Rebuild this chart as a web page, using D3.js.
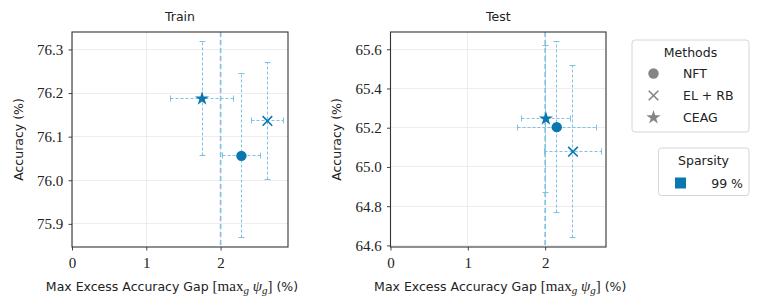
<!DOCTYPE html>
<html>
<head>
<meta charset="utf-8">
<script src="https://cdn.jsdelivr.net/npm/d3@7"></script>
<style>
  body { margin: 0; background: #fff; }
  svg text { fill: #222; }
  .serif { font-family: "Liberation Serif", serif; }
  .sans { font-family: "DejaVu Sans", sans-serif; font-size: 12.5px; }
</style>
</head>
<body>
<svg id="chart" width="761" height="307"></svg>
<script>
// methods and their values (x = max excess accuracy gap, y = accuracy)
const methods = ["NFT", "EL + RB", "CEAG"]
const symbols = ["circle", "cross", "star"]

const trainX    = [2.28, 2.63, 1.75]
const trainXerr = [0.26, 0.21, 0.42]
const trainY    = [76.056, 76.136, 76.187]
const trainYerr = [0.188, 0.134, 0.131]

const testX    = [2.15, 2.36, 2.01]
const testXerr = [0.51, 0.37, 0.32]
const testY    = [65.203, 65.078, 65.246]
const testYerr = [0.437, 0.437, 0.375]

const refLine = 2
const xTicks = [0, 1, 2]
const trainYTicks = [75.9, 76.0, 76.1, 76.2, 76.3]
const testYTicks = [64.6, 64.8, 65.0, 65.2, 65.4, 65.6]
const sparsity = ["99 %"]

const markColor = "#0a77ae"
const errColor = "#7ec2e3"

var svg = d3.select("#chart")

// snap to pixel centre so thin lines stay crisp
function px(v) { return Math.round(v - 0.5) + 0.5 }

function drawPanel(opt) {
    var x = d3.scaleLinear().domain(opt.xDomain).range([opt.left, opt.right])
    var y = d3.scaleLinear().domain(opt.yDomain).range([opt.bottom, opt.top])
    var g = svg.append("g")

    // grid
    g.append("g").selectAll("line").data(opt.yTicks).enter().append("line")
        .attr("x1", opt.left).attr("x2", opt.right)
        .attr("y1", d => px(y(d))).attr("y2", d => px(y(d)))
        .attr("stroke", "#ebebeb").attr("stroke-width", 0.9)
    g.append("g").selectAll("line").data(xTicks).enter().append("line")
        .attr("y1", opt.top).attr("y2", opt.bottom)
        .attr("x1", d => px(x(d))).attr("x2", d => px(x(d)))
        .attr("stroke", "#ebebeb").attr("stroke-width", 0.9)

    // axes
    var xAxis = d3.axisBottom(x).tickValues(xTicks).tickFormat(d3.format("d")).tickSize(3.5).tickSizeOuter(0)
    var yAxis = d3.axisLeft(y).tickValues(opt.yTicks).tickFormat(d3.format(".1f")).tickSize(3.5).tickSizeOuter(0)
    var gx = g.append("g").attr("transform", "translate(0," + opt.bottom + ")").call(xAxis)
    var gy = g.append("g").attr("transform", "translate(" + opt.left + ",0)").call(yAxis)
    gx.attr("font-family", null).attr("font-size", null).attr("class", "serif").style("font-size", "15px")
    gy.attr("font-family", null).attr("font-size", null).attr("class", "serif").style("font-size", "15px")
    gx.select(".domain").remove()
    gy.select(".domain").remove()
    gx.selectAll("line").attr("stroke", "#333").attr("stroke-width", 0.9)
    gy.selectAll("line").attr("stroke", "#333").attr("stroke-width", 0.9)
    gx.selectAll("text").attr("fill", "#222").attr("dy", "0.95em")
    gy.selectAll("text").attr("fill", "#222").attr("dx", "-0.15em")

    // reference line
    g.append("line")
        .attr("x1", x(refLine)).attr("x2", x(refLine))
        .attr("y1", opt.top).attr("y2", opt.bottom)
        .attr("stroke", errColor).attr("stroke-width", 1.6)
        .attr("stroke-dasharray", "5,3")

    // error bars
    var cap = 3
    var eb = g.append("g").attr("stroke", errColor).attr("stroke-width", 1).attr("fill", "none")
    opt.xs.forEach(function(xv, i) {
        var cx = px(x(xv)), cy = px(y(opt.ys[i]))
        var x0 = px(x(xv - opt.xerr[i])), x1 = px(x(xv + opt.xerr[i]))
        var y0 = px(y(opt.ys[i] - opt.yerr[i])), y1 = px(y(opt.ys[i] + opt.yerr[i]))
        eb.append("line").attr("x1", x0).attr("x2", x1).attr("y1", cy).attr("y2", cy).attr("stroke-dasharray", "3,2")
        eb.append("line").attr("x1", cx).attr("x2", cx).attr("y1", y0).attr("y2", y1).attr("stroke-dasharray", "3,2")
        eb.append("line").attr("x1", x0).attr("x2", x0).attr("y1", cy - cap).attr("y2", cy + cap)
        eb.append("line").attr("x1", x1).attr("x2", x1).attr("y1", cy - cap).attr("y2", cy + cap)
        eb.append("line").attr("x1", cx - cap).attr("x2", cx + cap).attr("y1", y0).attr("y2", y0)
        eb.append("line").attr("x1", cx - cap).attr("x2", cx + cap).attr("y1", y1).attr("y2", y1)
    })

    // markers
    opt.xs.forEach(function(xv, i) {
        drawMarker(g, symbols[i], x(xv), y(opt.ys[i]), markColor)
    })

    // frame
    g.append("rect")
        .attr("x", opt.left).attr("y", opt.top)
        .attr("width", opt.right - opt.left).attr("height", opt.bottom - opt.top)
        .attr("fill", "none").attr("stroke", "#333").attr("stroke-width", 1.1)

    // title
    g.append("text").attr("class", "sans").attr("x", (opt.left + opt.right) / 2).attr("y", 21)
        .attr("text-anchor", "middle").text(opt.title)

    // y label
    g.append("text").attr("class", "sans")
        .attr("transform", "translate(" + opt.ylabelX + "," + ((opt.top + opt.bottom) / 2) + ") rotate(-90)")
        .attr("text-anchor", "middle").text("Accuracy (%)")

    // x label with math part
    var xl = g.append("text").attr("class", "sans").attr("x", (opt.left + opt.right) / 2 + opt.xlabelShift).attr("y", 291)
        .attr("text-anchor", "middle")
    xl.append("tspan").text("Max Excess Accuracy Gap ")
    xl.append("tspan").attr("class", "serif").style("font-size", "15px").text("[max")
    xl.append("tspan").attr("class", "serif").style("font-style", "italic").style("font-size", "11px").attr("dy", 3).text("g")
    xl.append("tspan").attr("class", "serif").style("font-style", "italic").style("font-size", "15px").attr("dy", -3).text(" ψ")
    xl.append("tspan").attr("class", "serif").style("font-style", "italic").style("font-size", "11px").attr("dy", 3).text("g")
    xl.append("tspan").attr("class", "serif").style("font-size", "15px").attr("dy", -3).text("]")
    xl.append("tspan").text(" (%)")
}

function drawMarker(g, type, cx, cy, color) {
    if (type === "circle") {
        g.append("circle").attr("cx", cx).attr("cy", cy).attr("r", 5.2).attr("fill", color)
    } else if (type === "cross") {
        var s = 4.8
        g.append("path").attr("d", "M" + (cx - s) + "," + (cy - s) + "L" + (cx + s) + "," + (cy + s) +
            "M" + (cx - s) + "," + (cy + s) + "L" + (cx + s) + "," + (cy - s))
            .attr("stroke", color).attr("stroke-width", 1.6).attr("fill", "none")
    } else {
        g.append("path").attr("d", d3.symbol().type(d3.symbolStar).size(62)())
            .attr("transform", "translate(" + cx + "," + cy + ")").attr("fill", color)
    }
}

drawPanel({
    title: "Train", left: 72, right: 288, top: 32, bottom: 247,
    xDomain: [0, 2.907], yDomain: [75.847, 76.34],
    yTicks: trainYTicks, xs: trainX, xerr: trainXerr, ys: trainY, yerr: trainYerr,
    ylabelX: 23, xlabelShift: -8
})
drawPanel({
    title: "Test", left: 390.5, right: 606, top: 32, bottom: 247,
    xDomain: [0, 2.787], yDomain: [64.592, 65.688],
    yTicks: testYTicks, xs: testX, xerr: testXerr, ys: testY, yerr: testYerr,
    ylabelX: 341, xlabelShift: 2
})

// legends
var leg = svg.append("g")
leg.append("rect").attr("x", 632).attr("y", 40).attr("width", 117).attr("height", 92)
    .attr("rx", 3).attr("fill", "#fff").attr("stroke", "#d6d6d6")
leg.append("text").attr("class", "sans").attr("x", 690.5).attr("y", 57).attr("text-anchor", "middle").text("Methods")
methods.forEach(function(m, i) {
    var yy = 73.5 + i * 22
    drawMarker(leg, symbols[i], 653.5, yy, "#858585")
    leg.append("text").attr("class", "sans").attr("x", 683).attr("y", yy + 4.5).text(m)
})

var leg2 = svg.append("g")
leg2.append("rect").attr("x", 658.5).attr("y", 148).attr("width", 90.5).attr("height", 47.5)
    .attr("rx", 3).attr("fill", "#fff").attr("stroke", "#d6d6d6")
leg2.append("text").attr("class", "sans").attr("x", 703.5).attr("y", 165).attr("text-anchor", "middle").text("Sparsity")
sparsity.forEach(function(s, i) {
    var yy = 183 + i * 22
    leg2.append("rect").attr("x", 675).attr("y", yy - 5.5).attr("width", 11).attr("height", 11).attr("fill", markColor)
    leg2.append("text").attr("class", "sans").attr("x", 743).attr("y", yy + 4.5).attr("text-anchor", "end").text(s)
})
</script>
</body>
</html>
